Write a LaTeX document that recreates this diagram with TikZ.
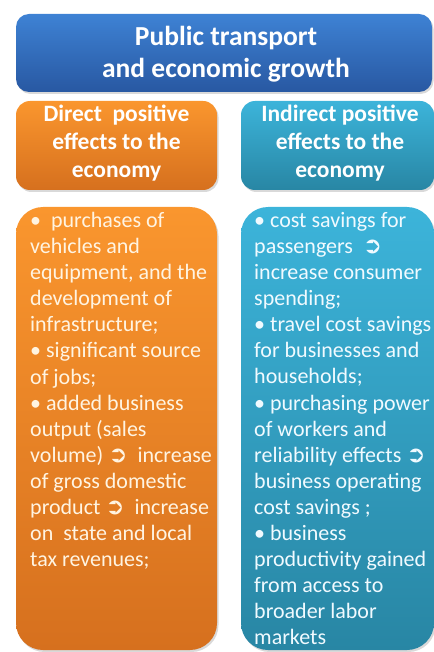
\documentclass[tikz,border=0pt]{standalone}
\usepackage{fontspec}
\setmainfont{Carlito}
\newfontfamily\dingfont{DejaVu Sans}
\usepackage{xcolor}
\usetikzlibrary{shadows}
\definecolor{titletop}{RGB}{62, 130, 212}
\definecolor{titlebot}{RGB}{40, 88, 162}
\definecolor{orangetop}{RGB}{250, 150, 46}
\definecolor{orangebot}{RGB}{214, 112, 30}
\definecolor{tealtop}{RGB}{60, 180, 218}
\definecolor{tealbot}{RGB}{40, 134, 164}
\definecolor{creamtext}{RGB}{255, 244, 226}
\definecolor{icetext}{RGB}{240, 250, 255}
\newcommand{\impl}{{\dingfont\fontsize{23}{23}\selectfont\bfseries ➲}}

\begin{document}
\begin{tikzpicture}[
        x=1pt, y=-1pt,
        box/.style={rectangle, inner sep=0pt, drop shadow={opacity=0.3, shadow xshift=1.5pt, shadow yshift=-2pt}},
        titlebox/.style={box, rounded corners=13pt, top color=titletop, bottom color=titlebot, minimum width=416pt, minimum height=78pt},
        headbox/.style={box, rounded corners=14pt, minimum width=201pt, minimum height=89pt},
        bodybox/.style={box, rounded corners=27pt, minimum width=201pt, minimum height=443pt},
        orangefill/.style={top color=orangetop, bottom color=orangebot},
        tealfill/.style={top color=tealtop, bottom color=tealbot},
        headtext/.style={align=center, text=white, font=\fontsize{23.5}{28}\selectfont\bfseries},
        bodytext/.style={align=left, anchor=north west, inner sep=0pt, font=\fontsize{22}{26.1}\selectfont}
    ]
        \useasboundingbox (0,0) rectangle (433,652);

        % Title
        \node[titlebox] (title) at (224, 53) {};
        \node[headtext, font=\fontsize{27.5}{32}\selectfont\bfseries] (titletext) at (226, 54) {Public transport\\and economic growth};

        % Column headers
        \node[headbox, orangefill] (dirhead) at (116.5, 145.5) {};
        \node[headtext] (dirheadtext) at (116.5, 143.5) {Direct\ \ positive\\effects to the\\economy};
        \node[headbox, tealfill, minimum width=193pt] (indhead) at (337.5, 145.5) {};
        \node[headtext] (indheadtext) at (340, 143.5) {Indirect positive\\effects to the\\economy};

        % Column bodies
        \node[bodybox, orangefill] (dirbody) at (116.5, 428.5) {};
        \node[bodybox, tealfill, minimum width=193pt] (indbody) at (337.5, 428.5) {};

        % Body texts
        \node[bodytext, text=creamtext] (dirtext) at (30, 212) {%
            \textbullet\ \ purchases of\\
            vehicles and\\
            equipment, and the\\
            development of\\
            infrastructure;\\
            \textbullet\ significant source\\
            of jobs;\\
            \textbullet\ added business\\
            output (sales\\
            volume) \impl\ \ increase\\
            of gross domestic\\
            product \impl\ \ increase\\
            on\ \ state and local\\
            tax revenues;};
        \node[bodytext, text=icetext] (indtext) at (254, 212) {%
            \textbullet\ cost savings for\\
            passengers\ \ \impl\\
            increase consumer\\
            spending;\\
            \textbullet\ travel cost savings\\
            for businesses and\\
            households;\\
            \textbullet\ purchasing power\\
            of workers and\\
            reliability effects \impl\\
            business operating\\
            cost savings ;\\
            \textbullet\ business\\
            productivity gained\\
            from access to\\
            broader labor\\
            markets};
    \end{tikzpicture}
\end{document}
